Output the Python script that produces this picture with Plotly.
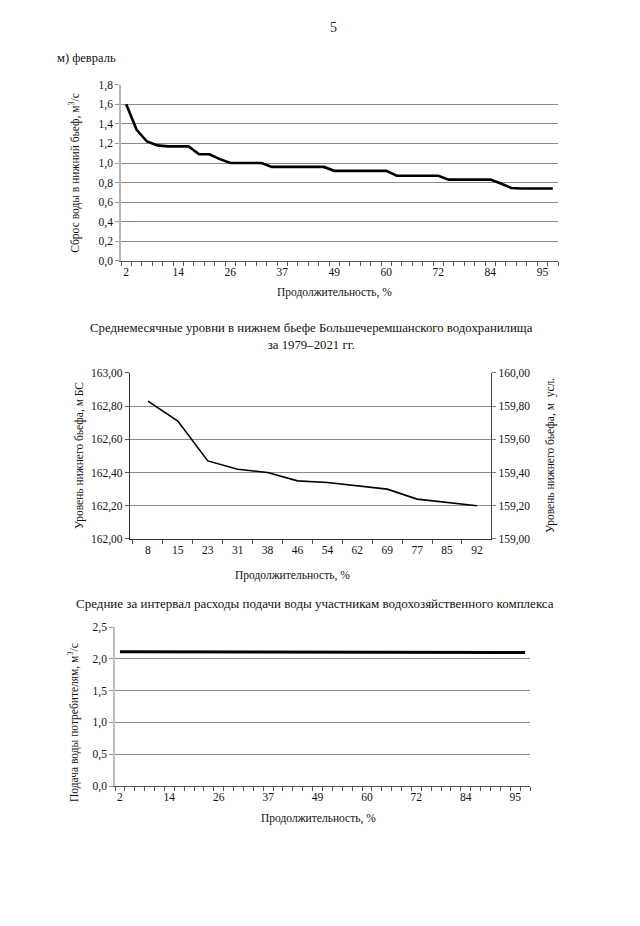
import plotly.graph_objects as go

# ---------------- data ----------------
# Chart 1: February discharge duration curve (42 categories)
duration_pct = ["2", "5", "7", "9", "12", "14", "16", "19", "21", "23", "26", "28", "30", "33",
                "35", "37", "40", "42", "44", "47", "49", "51", "53", "56", "58", "60", "63", "65",
                "67", "70", "72", "74", "77", "79", "81", "84", "86", "88", "91", "93", "95", "98"]
feb_discharge = [1.60, 1.34, 1.22, 1.18, 1.17, 1.17, 1.17, 1.09, 1.09, 1.04, 1.00, 1.00, 1.00, 1.00,
                 0.96, 0.96, 0.96, 0.96, 0.96, 0.96, 0.92, 0.92, 0.92, 0.92, 0.92, 0.92, 0.87, 0.87,
                 0.87, 0.87, 0.87, 0.83, 0.83, 0.83, 0.83, 0.83, 0.79, 0.745, 0.74, 0.74, 0.74, 0.74]

# Chart 2: monthly mean tailwater levels (12 categories)
level_duration = ["8", "15", "23", "31", "38", "46", "54", "62", "69", "77", "85", "92"]
level_bs = [162.83, 162.71, 162.47, 162.42, 162.40, 162.35, 162.34, 162.32, 162.30, 162.24, 162.22, 162.20]
usl_offset = 3.0  # right axis (м усл.) = left axis (м БС) - 3.00

# Chart 3: water supply to consumers (same 42 categories)
supply = [2.11] * 30 + [2.10] * 12

# ---------------- figure ----------------
W, H = 640, 926
OFF = 8  # page body margin in which the figure sits
FONT = "Liberation Serif, Times New Roman, serif"
GRID = "#8a8a8a"


def px_x(v):
    return (v - OFF) / W


def px_y(v):
    v2 = (v - 5.4) / 0.9855
    return 1 - (v2 - OFF) / H


pos1 = list(range(len(duration_pct)))
pos2 = list(range(len(level_duration)))

fig = go.Figure()

fig.add_trace(go.Scatter(x=pos1, y=feb_discharge, mode="lines",
                         line=dict(color="black", width=2.6), xaxis="x", yaxis="y",
                         showlegend=False, hoverinfo="skip"))
fig.add_trace(go.Scatter(x=pos2, y=level_bs, mode="lines",
                         line=dict(color="black", width=1.6), xaxis="x2", yaxis="y2",
                         showlegend=False, hoverinfo="skip"))
fig.add_trace(go.Scatter(x=pos2, y=[v - usl_offset for v in level_bs], mode="lines",
                         line=dict(color="rgba(0,0,0,0)", width=0), xaxis="x2", yaxis="y4",
                         showlegend=False, hoverinfo="skip"))
fig.add_trace(go.Scatter(x=pos1, y=supply, mode="lines",
                         line=dict(color="black", width=3), xaxis="x3", yaxis="y3",
                         showlegend=False, hoverinfo="skip"))

tickfont = dict(family=FONT, size=11.5, color="#111")

minor_common = dict(tickmode="linear", tick0=-0.5, dtick=1, ticks="outside",
                    ticklen=4, tickcolor="#555", tickwidth=1, showgrid=False)

xcommon = dict(showgrid=False, zeroline=False, showline=True, linecolor="#555",
               linewidth=1, ticks="", tickfont=tickfont, tickmode="array")

fig.update_layout(
    width=W, height=H, margin=dict(l=0, r=0, t=0, b=0),
    paper_bgcolor="white", plot_bgcolor="white",
    separators=", ",
    font=dict(family=FONT, color="#111"),
    xaxis=dict(xcommon, domain=[px_x(121), px_x(558)], anchor="y",
               range=[-0.5, len(pos1) - 0.5],
               tickvals=pos1[::5], ticktext=duration_pct[::5],
               minor=minor_common),
    yaxis=dict(domain=[px_y(260), px_y(84)], anchor="x", range=[0, 1.8], dtick=0.2,
               tickformat=".1f", showgrid=True, gridcolor=GRID, gridwidth=1,
               zeroline=False, showline=True, linecolor="#b5b5b5", linewidth=1.5,
               ticks="outside", ticklen=4, tickcolor="#999", tickfont=tickfont),
    xaxis2=dict(xcommon, domain=[px_x(130), px_x(491)], anchor="y2",
                range=[-0.6, len(pos2) - 0.53],
                tickvals=pos2, ticktext=level_duration,
                linecolor="#333",
                minor=dict(minor_common, tick0=-0.5)),
    yaxis2=dict(domain=[px_y(538), px_y(372)], anchor="x2", range=[162.0, 163.0], dtick=0.2,
                tickformat=".2f", showgrid=True, gridcolor=GRID, gridwidth=1,
                zeroline=False, showline=True, linecolor="#333", linewidth=1.2,
                ticks="outside", ticklen=4, tickcolor="#555", tickfont=tickfont, mirror=False),
    yaxis4=dict(overlaying="y2", side="right", anchor="x2", range=[159.0, 160.0], dtick=0.2,
                tickformat=".2f", showgrid=False, zeroline=False, showline=True,
                linecolor="#444", linewidth=1.2, ticks="outside", ticklen=4, tickcolor="#777",
                tickfont=tickfont),
    xaxis3=dict(xcommon, domain=[px_x(115), px_x(530)], anchor="y3",
                range=[-0.5, len(pos1) - 0.5],
                tickvals=pos1[::5], ticktext=duration_pct[::5],
                minor=minor_common),
    yaxis3=dict(domain=[px_y(785), px_y(626)], anchor="x3", range=[0, 2.5], dtick=0.5,
                tickformat=".1f", showgrid=True, gridcolor=GRID, gridwidth=1,
                zeroline=False, showline=True, linecolor="#bdbdbd", linewidth=1.5,
                ticks="outside", ticklen=4, tickcolor="#999", tickfont=tickfont),
)

ann_font = dict(family=FONT, size=11.5, color="#111")
title_font = dict(family=FONT, size=12.8, color="#111")

annotations = [
    dict(text="5", x=px_x(333), y=px_y(27), font=dict(family=FONT, size=14, color="#222")),
    dict(text="м) февраль", x=px_x(55), y=px_y(57), xanchor="left",
         font=dict(family=FONT, size=12.5, color="#111")),
    # chart 1
    dict(text="Сброс воды в нижний бьеф, м<sup>3</sup>/с", x=px_x(75), y=px_y(172),
         textangle=-90, font=ann_font),
    dict(text="Продолжительность, %", x=px_x(334), y=px_y(292), font=ann_font),
    # chart 2
    dict(text="Среднемесячные уровни в нижнем бьефе Большечеремшанского водохранилища<br>за 1979–2021 гг.",
         x=px_x(311), y=px_y(336), font=title_font),
    dict(text="Уровень нижнего бьефа, м БС", x=px_x(80), y=px_y(455),
         textangle=-90, font=ann_font),
    dict(text="Уровень нижнего бьефа, м  усл.", x=px_x(551), y=px_y(455),
         textangle=-90, font=ann_font),
    dict(text="Продолжительность, %", x=px_x(292), y=px_y(575), font=ann_font),
    # chart 3
    dict(text="Средние за интервал расходы подачи воды участникам водохозяйственного комплекса",
         x=px_x(315), y=px_y(603), font=dict(family=FONT, size=13.0, color="#111")),
    dict(text="Подача воды потребителям, м<sup>3</sup>/с", x=px_x(73), y=px_y(722),
         textangle=-90, font=ann_font),
    dict(text="Продолжительность, %", x=px_x(318), y=px_y(817), font=ann_font),
]
for a in annotations:
    a.setdefault("xanchor", "center")
    a.setdefault("yanchor", "middle")
    fig.add_annotation(xref="paper", yref="paper", showarrow=False, **a)

fig.write_html("out.html")
